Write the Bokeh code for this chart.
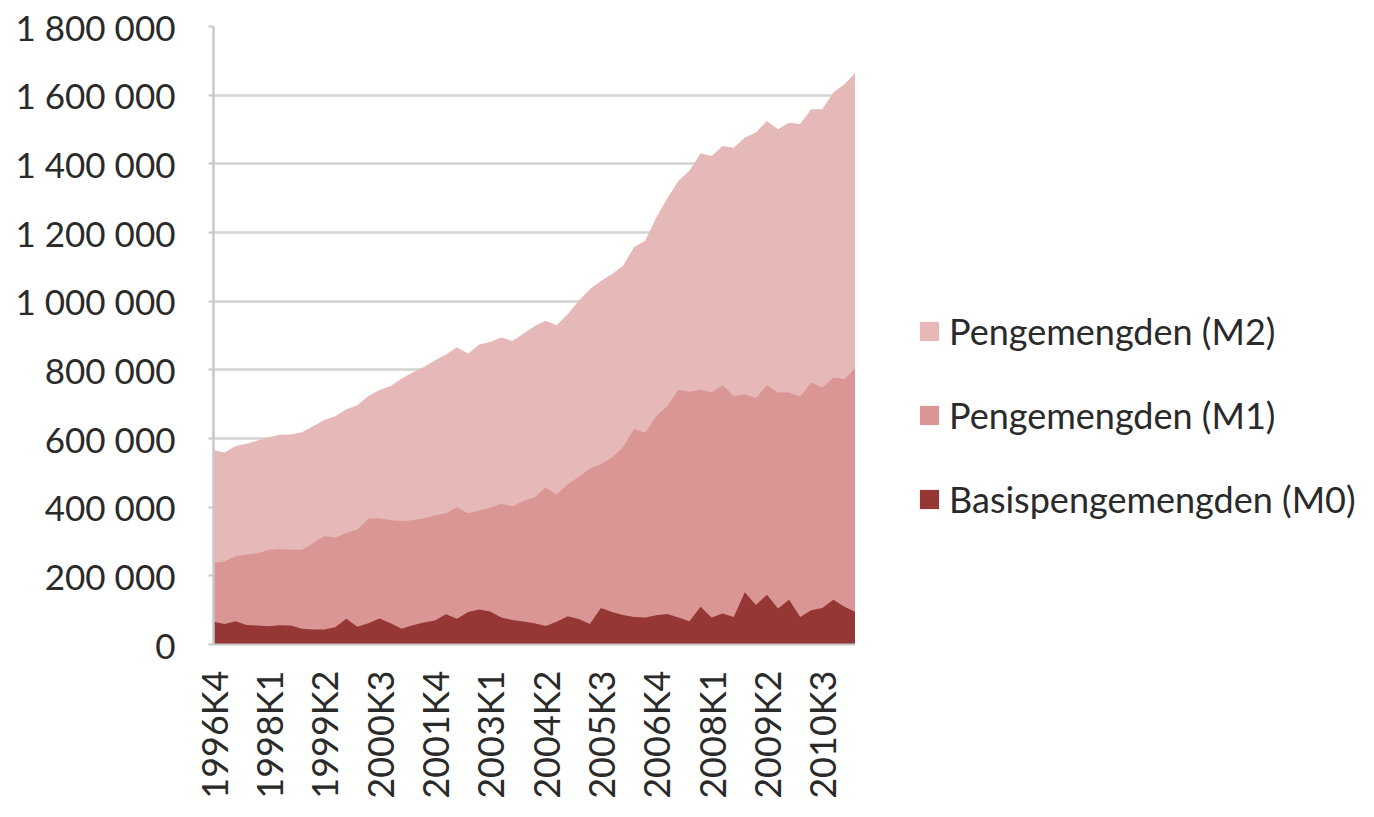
import math
from bokeh.plotting import figure
from bokeh.layouts import row
from bokeh.models import FixedTicker, Legend, LegendItem, Range1d
from bokeh.embed import file_html
from bokeh.resources import INLINE

quarters = [
    "1996K4",
    "1997K1", "1997K2", "1997K3", "1997K4",
    "1998K1", "1998K2", "1998K3", "1998K4",
    "1999K1", "1999K2", "1999K3", "1999K4",
    "2000K1", "2000K2", "2000K3", "2000K4",
    "2001K1", "2001K2", "2001K3", "2001K4",
    "2002K1", "2002K2", "2002K3", "2002K4",
    "2003K1", "2003K2", "2003K3", "2003K4",
    "2004K1", "2004K2", "2004K3", "2004K4",
    "2005K1", "2005K2", "2005K3", "2005K4",
    "2006K1", "2006K2", "2006K3", "2006K4",
    "2007K1", "2007K2", "2007K3", "2007K4",
    "2008K1", "2008K2", "2008K3", "2008K4",
    "2009K1", "2009K2", "2009K3", "2009K4",
    "2010K1", "2010K2", "2010K3", "2010K4",
    "2011K1", "2011K2",
]

m2 = [566000, 559000, 578000, 585000, 594000, 604000, 611000, 612000, 618000, 636000,
      654000, 665000, 685000, 697000, 724000, 741000, 753000, 775000, 792000, 808000,
      827000, 845000, 866000, 847000, 874000, 881000, 894000, 884000, 905000, 927000,
      943000, 930000, 962000, 1001000, 1035000, 1059000, 1079000, 1103000, 1158000, 1176000,
      1244000, 1300000, 1350000, 1380000, 1430000, 1423000, 1452000, 1447000, 1477000, 1491000,
      1525000, 1501000, 1520000, 1516000, 1559000, 1559000, 1608000, 1632000, 1665000]

m1 = [238000, 242000, 257000, 262000, 266000, 276000, 278000, 276000, 276000, 295000,
      316000, 312000, 325000, 335000, 366000, 368000, 362000, 360000, 362000, 368000,
      376000, 382000, 400000, 382000, 390000, 398000, 410000, 402000, 418000, 428000,
      457000, 437000, 467000, 488000, 512000, 525000, 545000, 575000, 628000, 617000,
      665000, 695000, 742000, 736000, 742000, 735000, 755000, 724000, 729000, 718000,
      755000, 734000, 734000, 722000, 763000, 748000, 778000, 773000, 805000]

m0 = [66000, 60000, 68000, 57000, 55000, 53000, 56000, 55000, 46000, 44000,
      44000, 50000, 75000, 52000, 62000, 76000, 62000, 46000, 56000, 64000,
      70000, 88000, 75000, 95000, 102000, 96000, 79000, 71000, 67000, 62000,
      54000, 66000, 82000, 74000, 60000, 106000, 95000, 86000, 80000, 79000,
      85000, 89000, 79000, 68000, 110000, 79000, 90000, 80000, 152000, 115000,
      145000, 105000, 130000, 80000, 100000, 106000, 130000, 110000, 95000]

series_names = ["Pengemengden (M2)", "Pengemengden (M1)", "Basispengemengden (M0)"]
series_colors = ["#E6B9B8", "#D99694", "#953735"]
series_values = [m2, m1, m0]

y_ticks = [0, 200000, 400000, 600000, 800000, 1000000, 1200000, 1400000, 1600000, 1800000]
y_tick_labels = ["0", "200 000", "400 000", "600 000", "800 000", "1 000 000",
                 "1 200 000", "1 400 000", "1 600 000", "1 800 000"]

FONT = "Lato"
TEXT = "#2a2a2a"

x = list(range(len(quarters)))

H = 801
PW = 855          # main figure width (frame right edge)
LW = 1370 - PW    # legend panel width

p = figure(width=PW, height=H, output_backend="svg", toolbar_location=None,
           x_range=Range1d(0, len(quarters) - 1), y_range=Range1d(0, 1800000))
p.min_border_left = 213
p.min_border_right = 0
p.min_border_top = 26
p.min_border_bottom = 156
p.outline_line_color = None
p.background_fill_color = "white"
p.border_fill_color = "white"

for vals, col in zip(series_values, series_colors):
    p.varea(x=x, y1=0, y2=vals, fill_color=col)

p.xgrid.grid_line_color = None
p.ygrid.grid_line_color = "#D3D3D3"
p.ygrid.grid_line_width = 2.5
p.ygrid.ticker = FixedTicker(ticks=y_ticks)

# y axis
p.yaxis.ticker = FixedTicker(ticks=y_ticks)
p.yaxis.major_label_overrides = {t: l for t, l in zip(y_ticks, y_tick_labels)}
p.yaxis.major_label_text_font = FONT
p.yaxis.major_label_text_font_size = "35px"
p.yaxis.major_label_text_color = TEXT
p.yaxis.axis_line_color = "#C8C8C8"
p.yaxis.axis_line_width = 2.5
p.yaxis.major_tick_line_color = "#C8C8C8"
p.yaxis.major_tick_line_width = 2
p.yaxis.major_tick_out = 5
p.yaxis.major_tick_in = 0
p.yaxis.minor_tick_line_color = None
p.yaxis.major_label_standoff = 33

# x axis
x_ticks = x[::5]
p.xaxis.ticker = FixedTicker(ticks=x_ticks)
p.xaxis.major_label_overrides = {i: quarters[i] for i in x_ticks}
p.xaxis.major_label_orientation = math.pi / 2
p.xaxis.major_label_text_font = FONT
p.xaxis.major_label_text_font_size = "36px"
p.xaxis.major_label_text_color = TEXT
p.xaxis.axis_line_color = "#C8C8C8"
p.xaxis.axis_line_width = 2
p.xaxis.major_tick_line_color = None
p.xaxis.major_tick_out = 0
p.xaxis.major_tick_in = 0
p.xaxis.minor_tick_line_color = None
p.xaxis.major_label_standoff = 26

# legend panel (separate figure so the legend is not clipped by the plot frame);
# its proxy areas use the real series but lie outside its visible x range.
lg = figure(width=LW, height=H, output_backend="svg", toolbar_location=None,
            x_range=Range1d(-2, -1), y_range=Range1d(0, 1))
lg.min_border = 0
lg.axis.visible = False
lg.grid.grid_line_color = None
lg.outline_line_color = None
lg.background_fill_color = "white"
lg.border_fill_color = "white"
proxies = [lg.varea(x=x, y1=0, y2=v, fill_color=c) for v, c in zip(series_values, series_colors)]

legend = Legend(items=[LegendItem(label=n, renderers=[r]) for n, r in zip(series_names, proxies)],
                location=(62, 123))
legend.border_line_color = None
legend.background_fill_alpha = 0
legend.padding = 0
legend.margin = 0
legend.spacing = 40
legend.glyph_width = 24
legend.glyph_height = 24
legend.label_height = 40
legend.label_standoff = 8
legend.label_text_font = FONT
legend.label_text_font_size = "36px"
legend.label_text_color = TEXT
lg.add_layout(legend, "center")

layout = row(p, lg)
layout.spacing = 0
open("out.html", "w").write(file_html(layout, INLINE))
